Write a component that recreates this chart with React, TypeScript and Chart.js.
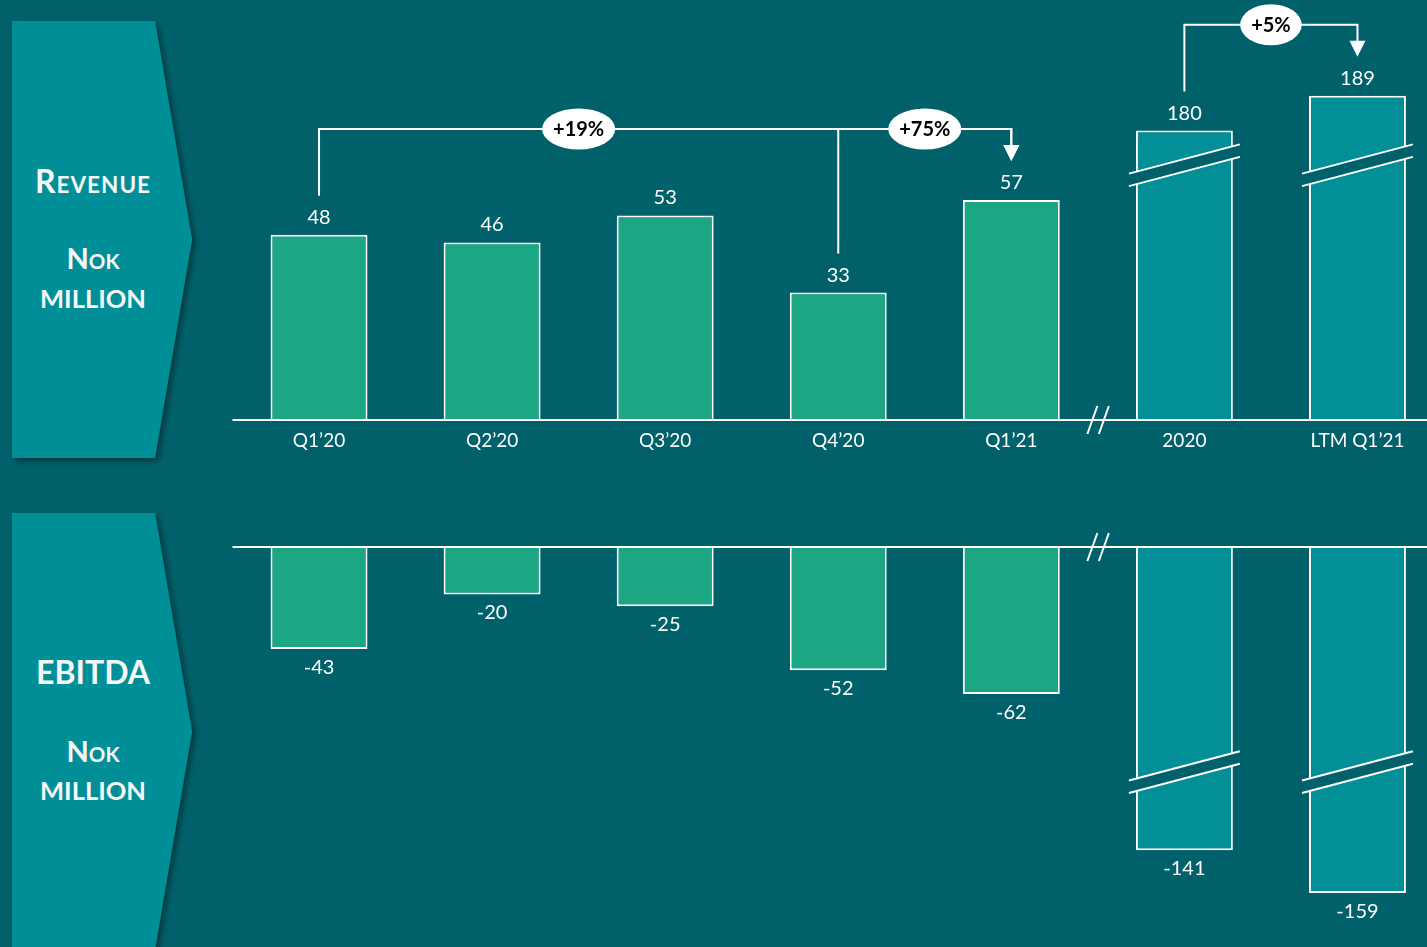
import React, { useEffect, useRef } from "react";
import { Chart, registerables } from "chart.js";

Chart.register(...registerables);

// ---- data ----
const categories = ["Q1’20", "Q2’20", "Q3’20", "Q4’20", "Q1’21", "2020", "LTM Q1’21"];
const revenue = [48, 46, 53, 33, 57, 180, 189];
const ebitda = [-43, -20, -25, -52, -62, -141, -159];
// full-year bars are drawn on a cut axis (value band removed)
const brokenBars = [5, 6];
const revenueCut = 105;
const ebitdaCut = 13;
// growth brackets
const growthFrom = [0, 3, 5];
const growthTo = [4, 4, 6];
const growthLabelAt = [1.5, 3.5, 5.5];
const growthLabels = ["+19%", "+75%", "+5%"];

// ---- style ----
const BG = "#01616B";
const PANEL = "#038F96";
const GREEN = "#1CA784";
const TEAL = "#038F97";
const WHITE = "#FFFFFF";
const FONT = "Lato, 'Open Sans', sans-serif";

const CANVAS_W = 1444;
const LEFT_PAD = 232.5;

const barColors = categories.map((_, i) => (brokenBars.includes(i) ? TEAL : GREEN));
const revenuePlot = revenue.map((v, i) => (brokenBars.includes(i) ? v - revenueCut : v));
const ebitdaPlot = ebitda.map((v, i) => (brokenBars.includes(i) ? v + ebitdaCut : v));

function drawBreakBand(ctx: CanvasRenderingContext2D, bar: any, yc: number) {
  const half = bar.width / 2 + 7;
  const xl = bar.x - half;
  const xr = bar.x + half;
  const slope = -29 / 110;
  const gap = 12.5;
  const y = (x: number, off: number) => yc + off + slope * (x - bar.x);
  ctx.save();
  ctx.fillStyle = BG;
  ctx.beginPath();
  ctx.moveTo(xl, y(xl, -gap / 2));
  ctx.lineTo(xr, y(xr, -gap / 2));
  ctx.lineTo(xr, y(xr, gap / 2));
  ctx.lineTo(xl, y(xl, gap / 2));
  ctx.closePath();
  ctx.fill();
  ctx.strokeStyle = WHITE;
  ctx.lineWidth = 2;
  ctx.beginPath();
  ctx.moveTo(xl, y(xl, -gap / 2));
  ctx.lineTo(xr, y(xr, -gap / 2));
  ctx.moveTo(xl, y(xl, gap / 2));
  ctx.lineTo(xr, y(xr, gap / 2));
  ctx.stroke();
  ctx.restore();
}

function drawBaseline(chart: any) {
  const ctx: CanvasRenderingContext2D = chart.ctx;
  const y = chart.scales.y.getPixelForValue(0);
  const meta = chart.getDatasetMeta(0);
  ctx.save();
  ctx.strokeStyle = WHITE;
  ctx.lineWidth = 2;
  ctx.beginPath();
  ctx.moveTo(chart.chartArea.left, y);
  ctx.lineTo(chart.width, y);
  ctx.stroke();
  // axis break marks between the quarters and the full-year bars
  const bx = (meta.data[4].x + meta.data[5].x) / 2;
  ctx.beginPath();
  for (const dx of [-5.5, 6]) {
    ctx.moveTo(bx + dx - 5, y + 14);
    ctx.lineTo(bx + dx + 5, y - 14);
  }
  ctx.stroke();
  ctx.restore();
}

const revenuePlugin = {
  id: "revenueDecor",
  afterDatasetsDraw(chart: any) {
    const ctx: CanvasRenderingContext2D = chart.ctx;
    const meta = chart.getDatasetMeta(0);
    const yScale = chart.scales.y;
    brokenBars.forEach((i) => drawBreakBand(ctx, meta.data[i], yScale.getPixelForValue(66)));
    drawBaseline(chart);

    ctx.save();
    ctx.fillStyle = WHITE;
    ctx.font = `20px ${FONT}`;
    ctx.textAlign = "center";
    ctx.textBaseline = "alphabetic";
    revenue.forEach((v, i) => {
      const bar = meta.data[i];
      ctx.fillText(String(v), bar.x, bar.y - 11);
    });
    ctx.restore();

    // growth brackets
    const tops = meta.data.map((b: any) => b.y);
    const xs = meta.data.map((b: any) => b.x);
    const step = xs[1] - xs[0];
    ctx.save();
    ctx.strokeStyle = WHITE;
    ctx.fillStyle = WHITE;
    ctx.lineWidth = 2;
    growthFrom.forEach((from, g) => {
      const to = growthTo[g];
      let minTop = Infinity;
      for (let k = from; k <= to; k++) minTop = Math.min(minTop, tops[k]);
      const level = minTop - 71;
      const tip = tops[to] - 39;
      ctx.beginPath();
      ctx.moveTo(xs[from], tops[from] - 39);
      ctx.lineTo(xs[from], level);
      ctx.lineTo(xs[to], level);
      ctx.lineTo(xs[to], tip - 15);
      ctx.stroke();
      ctx.beginPath();
      ctx.moveTo(xs[to] - 8, tip - 16);
      ctx.lineTo(xs[to] + 8, tip - 16);
      ctx.lineTo(xs[to], tip);
      ctx.closePath();
      ctx.fill();
    });
    ctx.font = `bold 20px ${FONT}`;
    ctx.textAlign = "center";
    ctx.textBaseline = "middle";
    growthFrom.forEach((from, g) => {
      const to = growthTo[g];
      let minTop = Infinity;
      for (let k = from; k <= to; k++) minTop = Math.min(minTop, tops[k]);
      const level = minTop - 71;
      const cx = xs[0] + growthLabelAt[g] * step;
      const tw = ctx.measureText(growthLabels[g]).width;
      ctx.fillStyle = WHITE;
      ctx.beginPath();
      ctx.ellipse(cx, level, (tw + 22) / 2, 20.5, 0, 0, Math.PI * 2);
      ctx.fill();
      ctx.fillStyle = "#000000";
      ctx.fillText(growthLabels[g], cx, level + 1);
    });
    ctx.restore();
  },
};

const ebitdaPlugin = {
  id: "ebitdaDecor",
  afterDatasetsDraw(chart: any) {
    const ctx: CanvasRenderingContext2D = chart.ctx;
    const meta = chart.getDatasetMeta(0);
    const yScale = chart.scales.y;
    brokenBars.forEach((i) => drawBreakBand(ctx, meta.data[i], yScale.getPixelForValue(-95)));
    drawBaseline(chart);
    ctx.save();
    ctx.fillStyle = WHITE;
    ctx.font = `20px ${FONT}`;
    ctx.textAlign = "center";
    ctx.textBaseline = "alphabetic";
    ebitda.forEach((v, i) => {
      const bar = meta.data[i];
      ctx.fillText(String(v), bar.x, bar.y + 25);
    });
    ctx.restore();
  },
};

function baseDataset(data: number[]) {
  return {
    data,
    backgroundColor: barColors,
    borderColor: WHITE,
    borderWidth: 2,
    borderSkipped: "start" as const,
    barPercentage: 0.56,
    categoryPercentage: 1,
  };
}

function Panel({ top, lines }: { top: number; lines: React.ReactNode }) {
  const h = 437;
  const pts = `12,${top} 155,${top} 192,${top + h / 2} 155,${top + h} 12,${top + h}`;
  return (
    <g>
      <polygon points={pts} fill={PANEL} filter="url(#panelShadow)" />
      {lines}
    </g>
  );
}

export default function App() {
  const topRef = useRef<HTMLCanvasElement>(null);
  const bottomRef = useRef<HTMLCanvasElement>(null);

  useEffect(() => {
    const top = new Chart(topRef.current as HTMLCanvasElement, {
      type: "bar",
      data: { labels: categories, datasets: [baseDataset(revenuePlot) as any] },
      options: {
        animation: false,
        responsive: false,
        events: [],
        layout: { padding: { left: LEFT_PAD, right: 0, top: 0, bottom: 0 } },
        plugins: { legend: { display: false }, tooltip: { enabled: false } },
        scales: {
          x: {
            grid: { display: false, drawTicks: false },
            border: { display: false },
            ticks: {
              color: WHITE,
              font: { family: FONT, size: 19 },
              padding: 9,
              maxRotation: 0,
              autoSkip: false,
            },
            afterFit: (s: any) => {
              s.height = 50;
            },
          },
          y: { display: false, min: 0, max: 420 / 3.86 },
        },
      },
      plugins: [revenuePlugin],
    });

    const bottom = new Chart(bottomRef.current as HTMLCanvasElement, {
      type: "bar",
      data: { labels: categories, datasets: [baseDataset(ebitdaPlot) as any] },
      options: {
        animation: false,
        responsive: false,
        events: [],
        layout: { padding: { left: LEFT_PAD, right: 0, top: 77, bottom: 0 } },
        plugins: { legend: { display: false }, tooltip: { enabled: false } },
        scales: {
          x: { display: false },
          y: { display: false, min: -400 / 2.37, max: 0 },
        },
      },
      plugins: [ebitdaPlugin],
    });

    return () => {
      top.destroy();
      bottom.destroy();
    };
  }, []);

  const textStyle = { fontFamily: FONT, fontWeight: 700 } as React.CSSProperties;
  const TXT = "#F7F7F7";

  return (
    <div
      style={{
        position: "fixed",
        left: 0,
        top: 0,
        width: 1427,
        height: 947,
        overflow: "hidden",
        background: BG,
      }}
    >
      <svg width={1427} height={947} style={{ position: "absolute", left: 0, top: 0 }}>
        <defs>
          <filter id="panelShadow" x="-20%" y="-20%" width="140%" height="140%">
            <feDropShadow dx="3" dy="3" stdDeviation="3" floodColor="#000000" floodOpacity="0.45" />
          </filter>
        </defs>
        <Panel
          top={21}
          lines={
            <g fill={TXT} textAnchor="middle" style={textStyle}>
              <text x={93} y={193} letterSpacing="1">
                <tspan fontSize={32}>R</tspan>
                <tspan fontSize={22.5}>EVENUE</tspan>
              </text>
              <text x={93} y={269}>
                <tspan fontSize={29}>N</tspan>
                <tspan fontSize={20.5}>OK</tspan>
              </text>
              <text x={93} y={308} fontSize={25.5}>
                MILLION
              </text>
            </g>
          }
        />
        <Panel
          top={513}
          lines={
            <g fill={TXT} textAnchor="middle" style={textStyle}>
              <text x={93} y={684} fontSize={32}>
                EBITDA
              </text>
              <text x={93} y={762}>
                <tspan fontSize={29}>N</tspan>
                <tspan fontSize={20.5}>OK</tspan>
              </text>
              <text x={93} y={800} fontSize={25.5}>
                MILLION
              </text>
            </g>
          }
        />
      </svg>
      <canvas
        ref={topRef}
        width={CANVAS_W}
        height={470}
        style={{ position: "absolute", left: 0, top: 0, width: CANVAS_W, height: 470 }}
      />
      <canvas
        ref={bottomRef}
        width={CANVAS_W}
        height={477}
        style={{ position: "absolute", left: 0, top: 470, width: CANVAS_W, height: 477 }}
      />
    </div>
  );
}
